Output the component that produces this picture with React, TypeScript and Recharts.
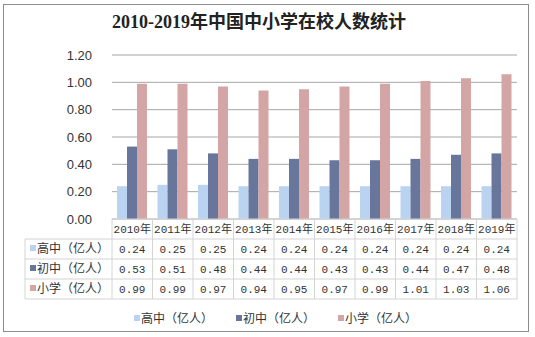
import { BarChart, Bar, XAxis, YAxis, CartesianGrid } from 'recharts';

const categories = ['2010年', '2011年', '2012年', '2013年', '2014年', '2015年', '2016年', '2017年', '2018年', '2019年'];
const highSchool = [0.24, 0.25, 0.25, 0.24, 0.24, 0.24, 0.24, 0.24, 0.24, 0.24];
const middleSchool = [0.53, 0.51, 0.48, 0.44, 0.44, 0.43, 0.43, 0.44, 0.47, 0.48];
const primarySchool = [0.99, 0.99, 0.97, 0.94, 0.95, 0.97, 0.99, 1.01, 1.03, 1.06];
const yTicks = [0, 0.2, 0.4, 0.6, 0.8, 1.0, 1.2];

const series = [
  { key: 'high', name: '高中（亿人）', values: highSchool, color: '#b9d3f0' },
  { key: 'middle', name: '初中（亿人）', values: middleSchool, color: '#68769c' },
  { key: 'primary', name: '小学（亿人）', values: primarySchool, color: '#d4a5a5' },
];

const data = categories.map((year, i) => ({
  year,
  high: highSchool[i],
  middle: middleSchool[i],
  primary: primarySchool[i],
}));

const W = 535;
const H = 337;
const PLOT_LEFT = 112;
const PLOT_RIGHT = 18;
const BAND = (W - PLOT_LEFT - PLOT_RIGHT) / categories.length;
const ROW_H = 20;
const HEAD_W = 87;
const LINE = '#d4d4d4';
const TXT = '#333';
const cellFont = '"Liberation Mono", "Noto Sans CJK SC", monospace';
const cjkFont = '"Noto Sans CJK SC", sans-serif';

function TableTick(props: any) {
  const { x, y, payload, index } = props;
  const left = x - BAND / 2;
  const right = x + BAND / 2;
  const bottom = y + ROW_H * (series.length + 1);
  return (
    <g>
      <line x1={right} y1={y} x2={right} y2={bottom} stroke={LINE} />
      {index === 0 && (
        <g>
          <line x1={left} y1={y} x2={left} y2={bottom} stroke={LINE} />
          <line x1={left - HEAD_W} y1={y + ROW_H} x2={left - HEAD_W} y2={bottom} stroke={LINE} />
          {series.map((s, r) => (
            <g key={s.key}>
              <line x1={left - HEAD_W} y1={y + ROW_H * (r + 1)} x2={left} y2={y + ROW_H * (r + 1)} stroke={LINE} />
              <rect x={left - HEAD_W + 5} y={y + ROW_H * (r + 1) + 6} width={6} height={6} fill={s.color} />
              <text x={left - HEAD_W + 12} y={y + ROW_H * (r + 1) + 14} fontSize={12} fill={TXT} fontFamily={cjkFont}>
                {s.name}
              </text>
            </g>
          ))}
          <line x1={left - HEAD_W} y1={bottom} x2={left} y2={bottom} stroke={LINE} />
        </g>
      )}
      {[1, 2, 3, 4].map((r) => (
        <line key={r} x1={left} y1={y + ROW_H * r} x2={right} y2={y + ROW_H * r} stroke={LINE} />
      ))}
      <text x={x} y={y + 14} textAnchor="middle" fontSize={11} fill={TXT} fontFamily={cellFont}>
        {payload.value}
      </text>
      {series.map((s, r) => (
        <text key={s.key} x={x} y={y + ROW_H * (r + 1) + 14} textAnchor="middle" fontSize={11} fill={TXT} fontFamily={cellFont}>
          {s.values[index].toFixed(2)}
        </text>
      ))}
    </g>
  );
}

export default function App() {
  return (
    <div style={{ position: 'absolute', left: 0, top: 0, width: W, height: H, background: '#fff' }}>
      <div
        style={{
          position: 'absolute', left: 3, top: 4, width: 526, height: 328,
          border: '1px solid #8c8c8c', boxSizing: 'border-box',
        }}
      />
      <div
        style={{
          position: 'absolute', left: 0, top: 10, width: 518, textAlign: 'center',
          fontFamily: '"Liberation Serif", "Noto Sans CJK SC", serif', fontWeight: 'bold',
          fontSize: 18, color: '#222', lineHeight: '24px',
        }}
      >
        2010-2019年中国中小学在校人数统计
      </div>
      <BarChart
        width={W}
        height={H}
        data={data}
        margin={{ top: 55, right: PLOT_RIGHT, bottom: H - 219 - 30, left: PLOT_LEFT - 60 }}
        barGap={0}
        barSize={10}
        style={{ position: 'absolute', left: 0, top: 0 }}
      >
        <CartesianGrid vertical={false} stroke="#a6a6a6" />
        <XAxis
          dataKey="year"
          axisLine={{ stroke: LINE }}
          tickLine={false}
          tickSize={0}
          tickMargin={0}
          interval={0}
          height={30}
          tick={<TableTick />}
        />
        <YAxis
          width={60}
          domain={[0, 1.2]}
          ticks={yTicks}
          axisLine={false}
          tickLine={false}
          tickMargin={14}
          tickFormatter={(v: number) => v.toFixed(2)}
          tick={{ fontSize: 13, fill: TXT, fontFamily: '"Liberation Sans", Arial, sans-serif' }}
        />
        {series.map((s) => (
          <Bar key={s.key} dataKey={s.key} name={s.name} fill={s.color} isAnimationActive={false} />
        ))}
      </BarChart>
      <div
        style={{
          position: 'absolute', left: 134, top: 309, display: 'flex', gap: 23,
          fontFamily: cjkFont, fontSize: 12, color: TXT,
        }}
      >
        {series.map((s) => (
          <div key={s.key} style={{ display: 'flex', alignItems: 'center' }}>
            <span style={{ width: 6, height: 6, background: s.color, marginRight: 1 }} />
            <span>{s.name}</span>
          </div>
        ))}
      </div>
    </div>
  );
}
